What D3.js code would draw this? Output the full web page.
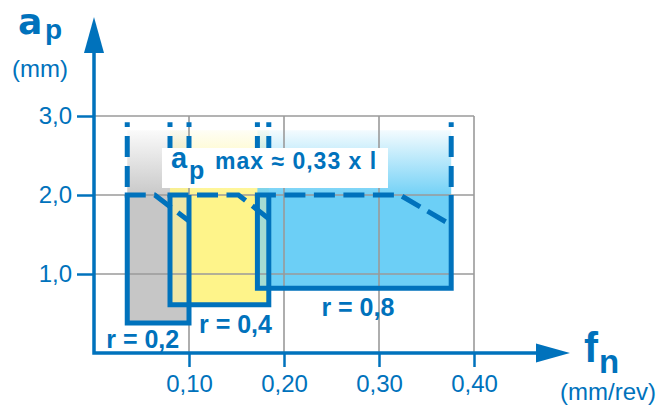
<!DOCTYPE html>
<html>
<head>
<meta charset="utf-8">
<script src="https://cdn.jsdelivr.net/npm/d3@7/dist/d3.min.js"></script>
<style>
  html, body { margin: 0; padding: 0; background: #fff; }
  svg { display: block; font-family: "Liberation Sans", Arial, Helvetica, sans-serif; }
</style>
</head>
<body>
<svg id="chart" width="665" height="407"></svg>
<script>
// ---- data ----
const series     = ["r = 0,2", "r = 0,4", "r = 0,8"];
const fMin       = [0.035, 0.080, 0.172];   // feed, left edge (mm/rev)
const fMax       = [0.100, 0.184, 0.376];   // feed, right edge
const apMin      = [0.38, 0.61, 0.82];      // depth of cut, bottom (mm)
const apMax      = [2.0, 2.0, 2.0];         // depth of cut, top of solid zone
const fBreak     = [0.064, 0.152, 0.322];   // where the dashed top starts to slope
const apEnd      = [1.67, 1.70, 1.62];      // dashed top at right edge
const apDashTop  = 2.92;                    // upper end of dashed extensions
const apFadeTop  = 2.82;                    // upper end of colour fade
const xTicks     = [0.10, 0.20, 0.30, 0.40];
const xTickLabels= ["0,10", "0,20", "0,30", "0,40"];
const yTicks     = [1, 2, 3];
const yTickLabels= ["1,0", "2,0", "3,0"];
const noteText   = "max ≈ 0,33 x l";

// ---- styles ----
const BLUE = "#0072bc";
const fills = ["#c6c6c6", "#fef48a", "#6ccff6"];
const overlapFill = { "0-1": "#efe6a6", "1-2": "#a6dcd2" };
const labelOffset = [[-21, 25], [29, 28], [64, 28]];

const svg = d3.select("#chart");
const x = d3.scaleLinear().domain([0, 0.4]).range([94, 474]);
const y = d3.scaleLinear().domain([0, 3]).range([353, 116]);

const defs = svg.append("defs");
fills.forEach((c, i) => {
  const g = defs.append("linearGradient").attr("id", "fade" + i)
    .attr("x1", 0).attr("y1", 1).attr("x2", 0).attr("y2", 0);
  g.append("stop").attr("offset", 0).attr("stop-color", c).attr("stop-opacity", 0.95);
  g.append("stop").attr("offset", 1).attr("stop-color", c).attr("stop-opacity", 0.08);
});

const idx = d3.range(series.length);

// fades above solid zone
svg.append("g").selectAll("rect").data(idx).join("rect")
  .attr("x", i => x(fMin[i])).attr("width", i => x(fMax[i]) - x(fMin[i]))
  .attr("y", i => y(apFadeTop)).attr("height", i => y(apMax[i]) - y(apFadeTop))
  .attr("fill", i => `url(#fade${i})`);

// solid fills
svg.append("g").selectAll("rect").data(idx).join("rect")
  .attr("x", i => x(fMin[i])).attr("width", i => x(fMax[i]) - x(fMin[i]))
  .attr("y", i => y(apMax[i])).attr("height", i => y(apMin[i]) - y(apMax[i]))
  .attr("fill", i => fills[i]);

// overlaps of neighbouring zones
const overlaps = [];
for (let i = 0; i < idx.length - 1; i++) {
  const j = i + 1;
  const f0 = Math.max(fMin[i], fMin[j]), f1 = Math.min(fMax[i], fMax[j]);
  const a0 = Math.max(apMin[i], apMin[j]), a1 = Math.min(apMax[i], apMax[j]);
  if (f1 > f0 && a1 > a0) overlaps.push({ f0, f1, a0, a1, c: overlapFill[i + "-" + j] });
}
svg.append("g").selectAll("rect").data(overlaps).join("rect")
  .attr("x", d => x(d.f0)).attr("width", d => x(d.f1) - x(d.f0))
  .attr("y", d => y(d.a1)).attr("height", d => y(d.a0) - y(d.a1))
  .attr("fill", d => d.c);

// grid
const grid = svg.append("g").attr("stroke", "#9a9a9a").attr("stroke-width", 1.6);
grid.selectAll("line.v").data(xTicks).join("line").attr("class", "v")
  .attr("x1", d => x(d)).attr("x2", d => x(d)).attr("y1", y(0)).attr("y2", y(3));
grid.selectAll("line.h").data(yTicks).join("line").attr("class", "h")
  .attr("x1", x(0)).attr("x2", x(0.4)).attr("y1", d => y(d)).attr("y2", d => y(d));

// solid outlines (left, bottom, right)
svg.append("g").selectAll("path").data(idx).join("path")
  .attr("d", i => d3.line()([
    [x(fMin[i]), y(apMax[i])], [x(fMin[i]), y(apMin[i])],
    [x(fMax[i]), y(apMin[i])], [x(fMax[i]), y(apMax[i])]]))
  .attr("fill", "none").attr("stroke", BLUE).attr("stroke-width", 5)
  .attr("stroke-linejoin", "miter");

// dashed top edges
svg.append("g").selectAll("path").data(idx).join("path")
  .attr("d", i => d3.line()([
    [x(fMin[i]) - 2.5, y(apMax[i])], [x(fBreak[i]), y(apMax[i])], [x(fMax[i]), y(apEnd[i])]]))
  .attr("fill", "none").attr("stroke", BLUE).attr("stroke-width", 5)
  .attr("stroke-dasharray", "21 8.5");

// dashed vertical extensions
const ext = [];
idx.forEach(i => { ext.push({ f: fMin[i], a: apMax[i] }); ext.push({ f: fMax[i], a: apMax[i] }); });
svg.append("g").selectAll("path").data(ext).join("path")
  .attr("d", d => d3.line()([[x(d.f), y(d.a)], [x(d.f), y(apDashTop)]]))
  .attr("fill", "none").attr("stroke", BLUE).attr("stroke-width", 5)
  .attr("stroke-dasharray", "21 9").attr("stroke-dashoffset", 22);

// note box
const note = svg.append("g");
note.append("rect").attr("x", 162).attr("y", 148).attr("width", 226).attr("height", 40).attr("fill", "#fff");
note.append("text").attr("x", 171).attr("y", 168).attr("fill", BLUE)
  .attr("font-weight", "bold").attr("font-size", 29).text("a");
note.append("text").attr("x", 189).attr("y", 179).attr("fill", BLUE)
  .attr("font-weight", "bold").attr("font-size", 25).text("p");
note.append("text").attr("x", 215).attr("y", 169).attr("fill", BLUE)
  .attr("font-weight", "bold").attr("font-size", 23).attr("letter-spacing", 1).text(noteText);

// series labels
svg.append("g").selectAll("text").data(idx).join("text")
  .attr("x", i => x(fMin[i]) + labelOffset[i][0])
  .attr("y", i => y(apMin[i]) + labelOffset[i][1])
  .attr("fill", BLUE).attr("font-weight", "bold").attr("font-size", 25)
  .text(i => series[i]);

// axes
const xAxis = d3.axisBottom(x).tickValues(xTicks).tickFormat((d, i) => xTickLabels[i])
  .tickSize(14).tickPadding(8).tickSizeOuter(0);
const gx = svg.append("g").attr("transform", `translate(0,${y(0)})`).call(xAxis);
gx.select(".domain").remove();
gx.selectAll(".tick line").attr("stroke", BLUE).attr("stroke-width", 2.5);
gx.selectAll(".tick text").attr("fill", BLUE).attr("font-size", 24)
  .attr("font-family", "'Liberation Sans', Arial, sans-serif");

const yAxis = d3.axisLeft(y).tickValues(yTicks).tickFormat((d, i) => yTickLabels[i])
  .tickSize(17).tickPadding(5).tickSizeOuter(0);
const gy = svg.append("g").attr("transform", `translate(${x(0)},0)`).call(yAxis);
gy.select(".domain").remove();
gy.selectAll(".tick line").attr("stroke", BLUE).attr("stroke-width", 2.5);
gy.selectAll(".tick text").attr("fill", BLUE).attr("font-size", 24)
  .attr("font-family", "'Liberation Sans', Arial, sans-serif");

// axis lines with arrows
svg.append("path")
  .attr("d", d3.line()([[x(0), 52], [x(0), y(0)], [540, y(0)]]))
  .attr("fill", "none").attr("stroke", BLUE).attr("stroke-width", 3.5);
svg.append("path").attr("d", d3.line()([[x(0) - 10, 53], [x(0), 17], [x(0) + 10, 53]]) + "Z").attr("fill", BLUE);
svg.append("path").attr("d", d3.line()([[536, y(0) - 9.5], [570, y(0)], [536, y(0) + 9.5]]) + "Z").attr("fill", BLUE);

// axis titles
svg.append("text").attr("x", 18).attr("y", 34).attr("fill", BLUE)
  .attr("font-family", "'DejaVu Sans', sans-serif")
  .attr("font-weight", "bold").attr("font-size", 36).text("a");
svg.append("text").attr("x", 45).attr("y", 39).attr("fill", BLUE)
  .attr("font-weight", "bold").attr("font-size", 28).text("p");
svg.append("text").attr("x", 12).attr("y", 77).attr("fill", BLUE)
  .attr("font-size", 24).text("(mm)");
svg.append("text").attr("x", 584).attr("y", 362).attr("fill", BLUE)
  .attr("font-weight", "bold").attr("font-size", 42).text("f");
svg.append("text").attr("x", 599).attr("y", 373).attr("fill", BLUE)
  .attr("font-weight", "bold").attr("font-size", 33).text("n");
svg.append("text").attr("x", 560).attr("y", 400).attr("fill", BLUE)
  .attr("font-size", 24).text("(mm/rev)");
</script>
</body>
</html>
